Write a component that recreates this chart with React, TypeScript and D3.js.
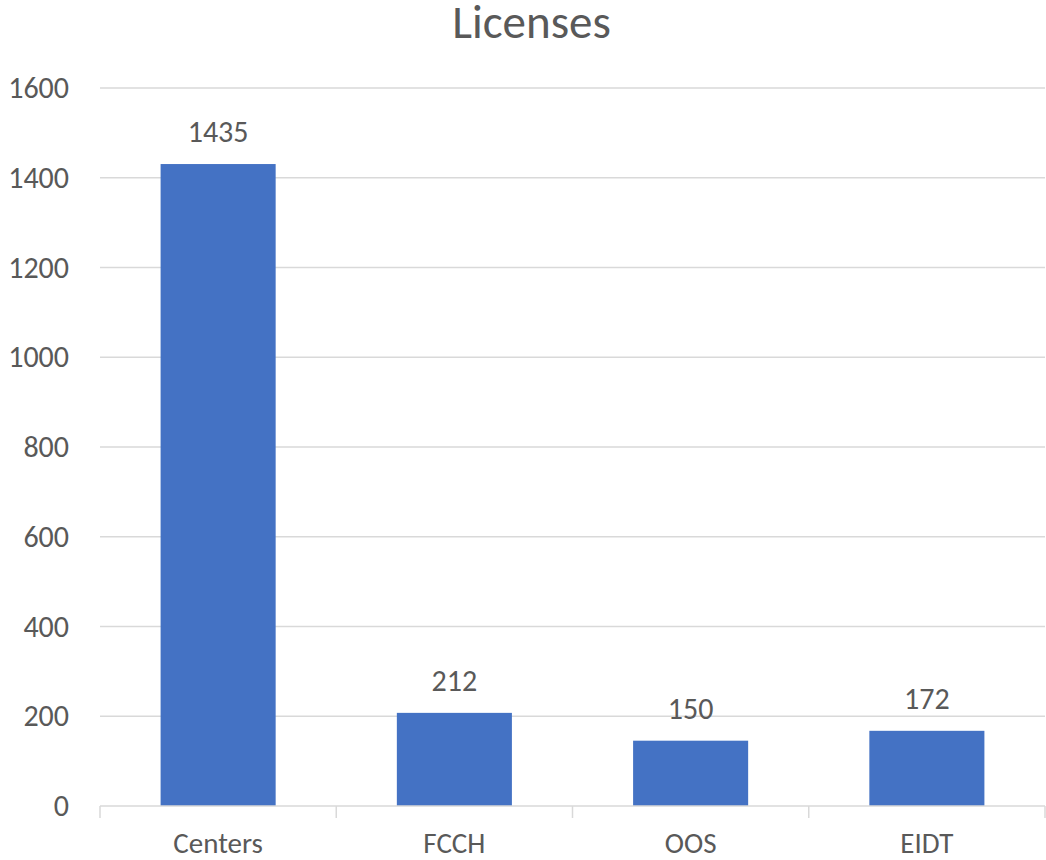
import React from "react";
import * as d3 from "d3";

const categories = ["Centers", "FCCH", "OOS", "EIDT"];
const values = [1435, 212, 150, 172];
const yTicks = [0, 200, 400, 600, 800, 1000, 1200, 1400, 1600];
const title = "Licenses";

const W = 1046;
const H = 860;
const margin = { left: 100, right: 1, top: 88, bottom: 54 };
const FONT = "Carlito, Calibri, Lato, 'Open Sans', sans-serif";
const TEXT = "#595959";

export default function App() {
  const x = d3
    .scaleBand<string>()
    .domain(categories)
    .range([margin.left, W - margin.right])
    .paddingInner(0.513)
    .paddingOuter(0.2565);
  const y = d3.scaleLinear().domain([0, 1600]).range([H - margin.bottom, margin.top]);
  const y0 = y(0);
  const bandStep = x.step();
  const boundaries = categories.map((_, i) => margin.left + i * bandStep).concat([W - margin.right]);

  return (
    <svg width={W} height={H} style={{ position: "absolute", left: 0, top: 0, background: "#fff" }}>
      <rect x={0} y={0} width={W} height={H} fill="#fff" />
      <text x={531.5} y={38} textAnchor="middle" fontFamily={FONT} fontSize={47} fill={TEXT}>
        {title}
      </text>
      {yTicks.map((t) => (
        <g key={t}>
          {t !== 0 && (
            <line x1={margin.left} x2={W - margin.right} y1={y(t)} y2={y(t)} stroke="#D9D9D9" strokeWidth={1.5} />
          )}
          <text x={69} y={y(t) + 10} textAnchor="end" fontFamily={FONT} fontSize={30} fill={TEXT}>
            {t}
          </text>
        </g>
      ))}
      {values.map((v, i) => (
        <g key={categories[i]}>
          <rect x={x(categories[i])} y={y(v) + 2} width={x.bandwidth()} height={y0 - y(v) - 2} fill="#4472C4" />
          <text
            x={(x(categories[i]) as number) + x.bandwidth() / 2}
            y={y(v) - 20}
            textAnchor="middle"
            fontFamily={FONT}
            fontSize={30}
            fill={TEXT}
          >
            {v}
          </text>
          <text
            x={(x(categories[i]) as number) + x.bandwidth() / 2}
            y={853}
            textAnchor="middle"
            fontFamily={FONT}
            fontSize={29}
            fill={TEXT}
          >
            {categories[i]}
          </text>
        </g>
      ))}
      <line x1={margin.left} x2={W - margin.right} y1={y0} y2={y0} stroke="#D9D9D9" strokeWidth={1.5} />
      {boundaries.map((bx, i) => (
        <line key={i} x1={bx} x2={bx} y1={y0} y2={y0 + 12} stroke="#D9D9D9" strokeWidth={1.5} />
      ))}
    </svg>
  );
}
